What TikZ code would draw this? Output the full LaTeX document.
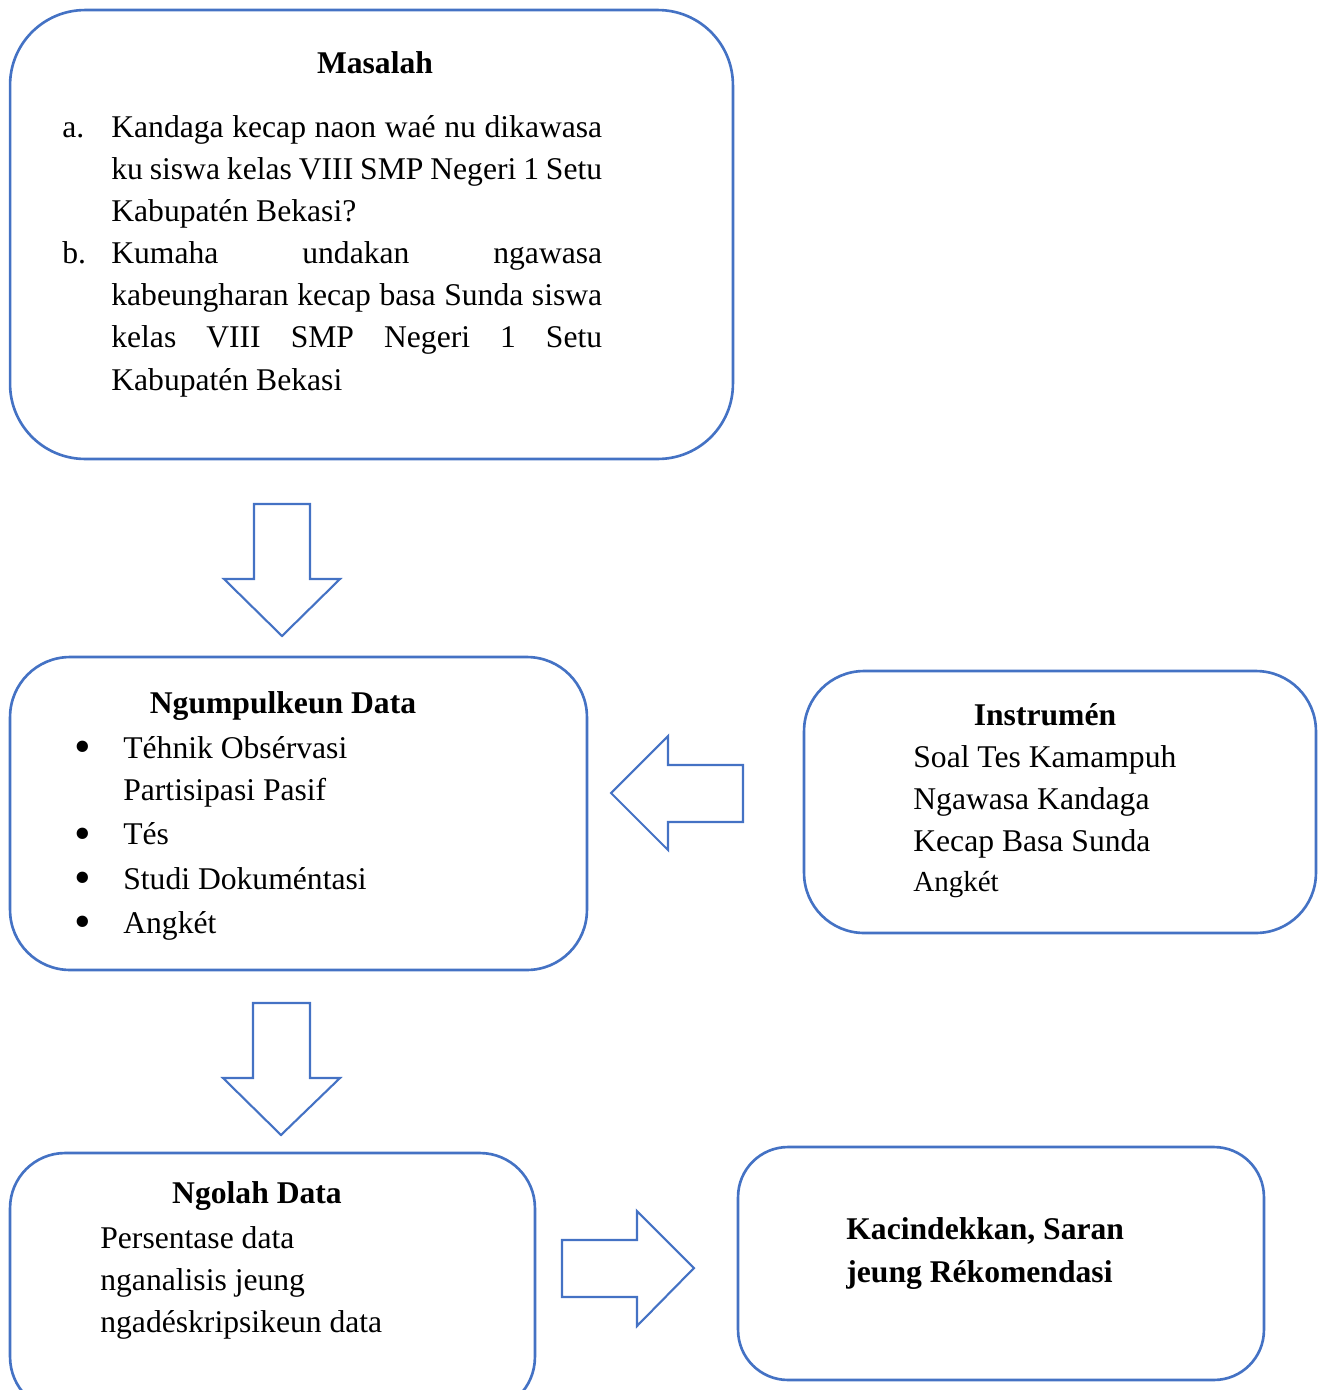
\documentclass[tikz,border=0pt]{standalone}
\usepackage{fontspec}
\setmainfont{Liberation Serif}
\definecolor{boxblue}{RGB}{68,114,196}
\newlength\fullw
\setlength\fullw{9.82cm}
\newcommand\bigbullet{\raisebox{-2.5pt}{\fontsize{27}{24}\selectfont\textbullet}}
\tikzset{
  box/.style={draw=boxblue, line width=1.5pt, fill=white},
  blockarrow/.style={draw=boxblue, line width=1.2pt, line join=miter},
  txt/.style={inner sep=0pt, font=\fontsize{18}{24}\selectfont},
  title/.style={inner sep=0pt, font=\fontsize{18}{24}\selectfont\bfseries}
}
\begin{document}
\begin{tikzpicture}[x=0.02cm, y=-0.02cm]
  \clip (0,0) rectangle (1326,1390);

  % boxes
  \node [box, rounded corners=1.5cm, minimum width=14.46cm, minimum height=8.98cm] (masalah) at (371.5,234.5) {};
  \node [box, rounded corners=1.2cm, minimum width=11.54cm, minimum height=6.26cm] (ngumpulkeun) at (298.5,813.5) {};
  \node [box, rounded corners=1.2cm, minimum width=10.24cm, minimum height=5.24cm] (instrumen) at (1060,802) {};
  \node [box, rounded corners=1.1cm, minimum width=10.5cm, minimum height=5.18cm] (ngolah) at (272.5,1282.5) {};
  \node [box, rounded corners=1cm, minimum width=10.52cm, minimum height=4.66cm] (kacindekkan) at (1001,1263.5) {};

  % Masalah
  \node [title, anchor=base] (masalahtitle) at (375,73) {Masalah};
  \node [txt, anchor=base west] (masalahlist) at (62,137) {%
    \begin{tabular}[t]{@{}p{0.98cm}@{}l@{}}
      a. & \makebox[\fullw][s]{Kandaga kecap naon waé nu dikawasa}\\
         & \makebox[\fullw][s]{ku siswa kelas VIII SMP Negeri 1 Setu}\\
         & Kabupatén Bekasi?\\
      b. & \makebox[\fullw][s]{Kumaha undakan ngawasa}\\
         & \makebox[\fullw][s]{kabeungharan kecap basa Sunda siswa}\\
         & \makebox[\fullw][s]{kelas VIII SMP Negeri 1 Setu}\\
         & Kabupatén Bekasi
    \end{tabular}};

  % Ngumpulkeun Data
  \node [title, anchor=base] (ngumpulkeuntitle) at (283,713) {Ngumpulkeun Data};
  \node [txt, anchor=base west] (ngumpulkeunlist) at (74,758) {%
    \begin{tabular}[t]{@{}p{0.98cm}@{}l@{}}
      \bigbullet & Téhnik Obsérvasi\\
                 & Partisipasi Pasif\\[1.3pt]
      \bigbullet & Tés\\[1.3pt]
      \bigbullet & Studi Dokuméntasi\\[1.3pt]
      \bigbullet & Angkét
    \end{tabular}};

  % Instrumen
  \node [title, anchor=base] (instrumentitle) at (1045,725) {Instrumén};
  \node [txt, anchor=base west] (instrumenlist) at (913,767) {%
    \begin{tabular}[t]{@{}l@{}}
      Soal Tes Kamampuh\\
      Ngawasa Kandaga\\
      Kecap Basa Sunda\\[-1pt]
      {\fontsize{16.5}{20}\selectfont Angkét}
    \end{tabular}};

  % Ngolah Data
  \node [title, anchor=base] (ngolahtitle) at (257,1203) {Ngolah Data};
  \node [txt, anchor=base west] (ngolahlist) at (100,1248) {%
    \begin{tabular}[t]{@{}l@{}}
      Persentase data\\
      nganalisis jeung\\
      ngadéskripsikeun data
    \end{tabular}};

  % Kacindekkan
  \node [title, anchor=base west] (kacindekkantext) at (846,1239) {%
    \begin{tabular}[t]{@{}l@{}}
      Kacindekkan, Saran\\[0.5pt]
      jeung Rékomendasi
    \end{tabular}};

  % block arrows
  \draw [blockarrow] (254,504) -- (310,504) -- (310,579) -- (340,579) -- (282,636) -- (224,579) -- (254,579) -- cycle;
  \draw [blockarrow] (611,793) -- (668,736) -- (668,765) -- (743,765) -- (743,822) -- (668,822) -- (668,850) -- cycle;
  \draw [blockarrow] (253,1003) -- (310,1003) -- (310,1078) -- (340,1078) -- (281,1135) -- (223,1078) -- (253,1078) -- cycle;
  \draw [blockarrow] (562,1240) -- (637,1240) -- (637,1211) -- (694,1268) -- (637,1326) -- (637,1297) -- (562,1297) -- cycle;
\end{tikzpicture}
\end{document}
